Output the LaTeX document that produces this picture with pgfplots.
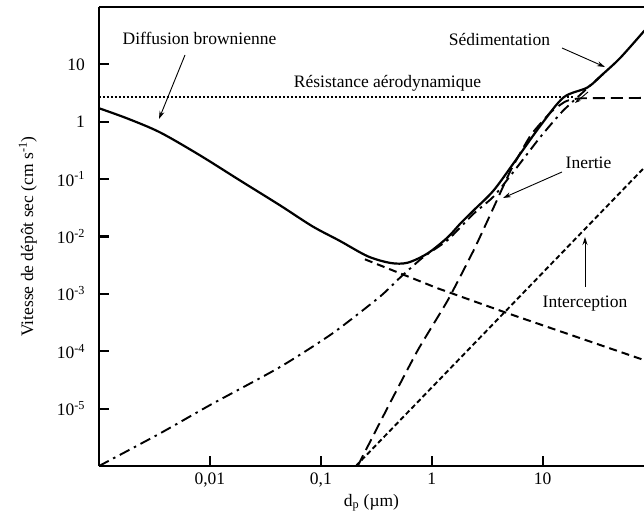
\documentclass[border=0pt]{standalone}
\usepackage{fontspec}
\setmainfont{Liberation Serif}
\usepackage{pgfplots}
\pgfplotsset{compat=1.18}
\usetikzlibrary{arrows.meta}
\begin{document}
\fontsize{17.5}{21}\selectfont
\begin{tikzpicture}
\begin{axis}[
  at={(0pt,0pt)}, anchor=south west,
  scale only axis, width=545pt, height=459pt,
  xmode=log, ymode=log,
  xmin=0.001, xmax=82, ymin=1e-6, ymax=100,
  axis x line=box, axis y line*=left,
  tick pos=left,
  xminorticks=false, yminorticks=false,
  tick align=inside, major tick length=10pt,
  every tick/.style={black, line width=2.2pt},
  axis line style={line width=2.6pt},
  xtick={0.01,0.1,1,10},
  xticklabels={{0,01},{0,1},1,10},
  ytick={1e-5,1e-4,1e-3,1e-2,1e-1,1,10},
  yticklabels={10\textsuperscript{-5},10\textsuperscript{-4},10\textsuperscript{-3},10\textsuperscript{-2},10\textsuperscript{-1},1,10},
  yticklabel style={xshift=-8pt},
  xticklabel style={yshift=-1pt},
  tick label style={font=\fontsize{17.5}{21}\selectfont},
  xlabel={d\textsubscript{p} (µm)},
  xlabel style={at={(axis description cs:0.5,0)}, anchor=north, yshift=-22pt},
  ylabel={Vitesse de dépôt sec (cm s\textsuperscript{-1})},
  ylabel style={at={(axis description cs:0,0.5)}, anchor=south, yshift=56pt},
  label style={font=\fontsize{17.5}{21}\selectfont},
]
% total (solid)
\addplot[black, line width=2.2pt, smooth, tension=0.5] coordinates {
(0.001,1.72)(0.00179,1.146)(0.00355,0.653)(0.00813,0.260)(0.0186,0.0953)
(0.0428,0.035)(0.084,0.01506)(0.148,0.00841)(0.265,0.00452)(0.428,0.00345)
(0.608,0.00350)(0.920,0.00509)(1.393,0.00968)(1.82,0.0170)(2.388,0.0286)
(3.62,0.0638)(5.71,0.213)(9.59,0.865)(15.45,2.66)(25.4,3.97)(35.5,6.97)
(50.5,13.2)(83,39)};
% aerodynamic resistance (dotted)
\addplot[black, line width=2pt, dash pattern=on 2pt off 2pt] coordinates {
(0.001,2.66)(19,2.66)};
% brownian diffusion continuation (dashed)
\addplot[black, line width=2pt, dash pattern=on 8pt off 5pt] coordinates {
(0.25,0.0040)(1.132,0.00125)(4.84,0.000459)(83,6.97e-5)};
% sedimentation (dash-dot)
\addplot[black, line width=1.9pt, dash pattern=on 11pt off 5pt on 2.5pt off 5pt, smooth, tension=0.4] coordinates {
(0.001,1.0e-6)(0.00355,3.7e-6)(0.01,1.15e-5)(0.0428,5.3e-5)(0.128,2.06e-4)
(0.34,8.9e-4)(0.515,1.9e-3)(0.83,4.3e-3)(1.393,0.0087)(2.388,0.025)(3.62,0.05)
(5.71,0.15)(9.59,0.55)(15,1.5)(22,3.0)(30,5.2)(35,6.8)};
% inertia (long dash)
\addplot[black, line width=1.9pt, dash pattern=on 12pt off 6pt, smooth, tension=0.3] coordinates {
(0.215,1e-6)(0.402,1.06e-5)(0.748,1.04e-4)(1.393,7.7e-4)(2.388,5.75e-3)
(3.62,0.0323)(5.15,0.142)(7.8,0.58)(11.8,1.46)(16.1,2.26)(22,2.56)(83,2.6)};
% interception (short dash)
\addplot[black, line width=1.9pt, dash pattern=on 5pt off 3pt] coordinates {
(0.207,1e-6)(1,2.33e-5)(10,2.33e-3)(83,0.161)};
\end{axis}
% annotations (pt coordinates relative to the axis origin)
\node[anchor=base] at (100.5pt,421pt) {Diffusion brownienne};
\draw[line width=0.9pt, -{Stealth[length=8pt,width=5pt]}] (86pt,411pt) -- (60pt,347pt);
\node[anchor=base] at (288.5pt,378pt) {Résistance aérodynamique};
\node[anchor=base] at (400.5pt,420pt) {Sédimentation};
\draw[line width=0.9pt, -{Stealth[length=8pt,width=5pt]}] (463pt,418pt) -- (506pt,399pt);
\node[anchor=base] at (489.5pt,297pt) {Inertie};
\draw[line width=0.9pt, -{Stealth[length=8pt,width=5pt]}] (463pt,294pt) -- (404pt,268pt);
\node[anchor=base] at (486pt,158pt) {Interception};
\draw[line width=0.9pt, -{Stealth[length=8pt,width=5pt]}] (486pt,179pt) -- (486pt,229pt);
\draw[line width=0.9pt, -{Stealth[length=6pt,width=4pt]}] (489pt,374pt) -- (476pt,363pt);
\pgfresetboundingbox
\path[use as bounding box] (-99pt,-47pt) rectangle (545pt,466pt);
\end{tikzpicture}
\end{document}
